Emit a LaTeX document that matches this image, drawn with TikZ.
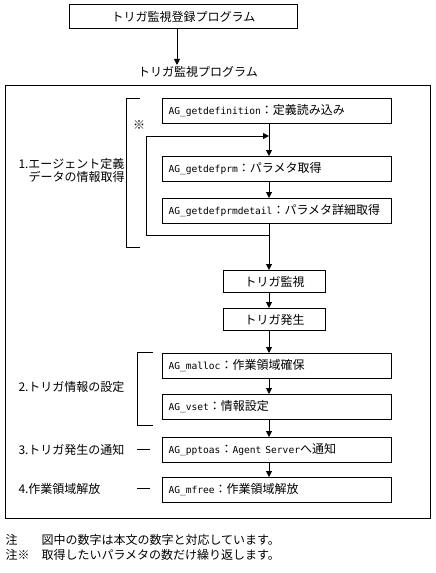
\documentclass[tikz,border=0pt]{standalone}
\usepackage{fontspec}
\setmainfont{Noto Sans CJK JP}
\newfontfamily\fnfont{DejaVu Sans Mono}[Scale=0.8]
\usetikzlibrary{arrows.meta}

\begin{document}
\begin{tikzpicture}[x=1pt,y=-1pt,line width=1pt,
  font=\fontsize{12}{14}\selectfont,
  arr/.style={-{Triangle[length=6pt,width=6pt]}},
  funcbox/.style={draw,anchor=north west,minimum width=229pt,minimum height=25pt,
    text width=217pt,inner xsep=6pt,align=left},
  statebox/.style={draw,anchor=north west,minimum width=102pt,minimum height=22pt},
  grouplabel/.style={anchor=west,inner sep=0pt}]
  \useasboundingbox (0,0) rectangle (436,573);

  \node[draw,anchor=north west,minimum width=228pt,minimum height=24pt] (reg) at (69,4) {トリガ監視登録プログラム};
  \coordinate (regout) at (177,28);
  \node[inner sep=1pt] (prog) at (198,72) {トリガ監視プログラム};
  \draw[arr] (regout) -- (regout |- prog.north);
  \draw (5,85) rectangle (430,518);

  \coordinate (spine) at (269,0);
  \node[funcbox] (def) at (162,98) {{\fnfont AG\_getdefinition}：定義読み込み};
  \node[funcbox] (prm) at (162,156) {{\fnfont AG\_getdefprm}：パラメタ取得};
  \node[funcbox] (detail) at (162,198) {{\fnfont AG\_getdefprmdetail}：パラメタ詳細取得};
  \node[statebox] (watch) at (223,270) {トリガ監視};
  \node[statebox] (fire) at (223,308) {トリガ発生};
  \node[funcbox] (malloc) at (162,353) {{\fnfont AG\_malloc}：作業領域確保};
  \node[funcbox] (vset) at (162,394) {{\fnfont AG\_vset}：情報設定};
  \node[funcbox] (pptoas) at (162,437) {{\fnfont AG\_pptoas}：{\fnfont Agent Server}へ通知};
  \node[funcbox] (mfree) at (162,477) {{\fnfont AG\_mfree}：作業領域解放};

  % repeat loop for each parameter
  \coordinate (loopin) at (269,136);
  \coordinate (loopbot) at (269,235);
  \draw[arr] (def.south -| spine) -- (prm.north -| spine);
  \draw[arr] (prm.south -| spine) -- (detail.north -| spine);
  \draw[arr] (loopbot) -| (146,136) -- (loopin);
  \draw[arr] (detail.south -| spine) -- (watch.north -| spine);
  \draw[arr] (watch.south -| spine) -- (fire.north -| spine);
  \draw[arr] (fire.south -| spine) -- (malloc.north -| spine);
  \draw[arr] (malloc.south -| spine) -- (vset.north -| spine);
  \draw[arr] (vset.south -| spine) -- (pptoas.north -| spine);
  \draw[arr] (pptoas.south -| spine) -- (mfree.north -| spine);
  \node[inner sep=0pt] (mark) at (139,125) {※};

  % brackets and step labels
  \draw (140,98) -- (126,98) -- (126,247) -- (140,247);
  \draw (153,352) -- (137,352) -- (137,425) -- (153,425);
  \draw (137,449.5) -- (150,449.5);
  \draw (137,488.5) -- (150,488.5);
  \node[grouplabel] (step1) at (18,164) {1.エージェント定義};
  \node[grouplabel] (step1b) at (28,177) {データの情報取得};
  \node[grouplabel] (step2) at (18,387) {2.トリガ情報の設定};
  \node[grouplabel] (step3) at (18,449.5) {3.トリガ発生の通知};
  \node[grouplabel] (step4) at (18,488.5) {4.作業領域解放};

  \node[grouplabel] (note1) at (5,540) {注　　図中の数字は本文の数字と対応しています。};
  \node[grouplabel] (note2) at (5,555) {注※　取得したいパラメタの数だけ繰り返します。};
\end{tikzpicture}
\end{document}
